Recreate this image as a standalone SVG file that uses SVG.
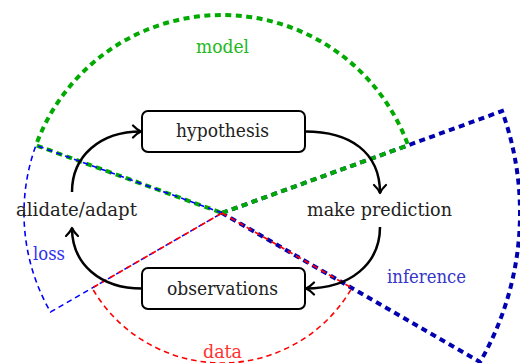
<svg xmlns="http://www.w3.org/2000/svg" width="520" height="363" viewBox="0 0 520 363">
  <style>
    .wedge { fill: none; }
    .thick { stroke-width: 4; stroke-dasharray: 6 4.5; }
    .thin { stroke-width: 1.6; stroke-dasharray: 5.5 4; }
    .lbl { font-family: "DejaVu Serif", serif; font-size: 19px; text-anchor: middle; }
    .box { fill: #ffffff; stroke: #000000; stroke-width: 2; }
    .node-text { fill: #222222; }
    .conn { fill: none; stroke: #000000; stroke-width: 2.5; marker-end: url(#arr); }
  </style>
  <defs>
    <marker id="arr" viewBox="-10 -8 12 16" refX="0" refY="0" markerWidth="12" markerHeight="16" markerUnits="userSpaceOnUse" orient="auto">
      <path d="M-8,-6 C-5,-2.8 -1.6,-0.7 0,0 C-1.6,0.7 -5,2.8 -8,6" fill="none" stroke="#000000" stroke-width="2.2" stroke-linecap="round" stroke-linejoin="round"/>
    </marker>
  </defs>

  <g id="regions">
    <path id="inference-wedge" class="wedge thick" stroke="#0000b0" d="M222,213 L502.03,111.08 A298,298 0 0 1 480.08,362 Z"/>
    <path id="model-wedge" class="wedge thick" stroke="#00aa00" d="M222,213 L408.06,145.28 A198,198 0 0 0 35.94,145.28 Z"/>
    <path id="loss-wedge" class="wedge thin" stroke="#0000ff" d="M222,213 L35.94,145.28 A198,198 0 0 0 50.53,312 Z"/>
    <path id="data-wedge" class="wedge thin" stroke="#ff0000" d="M222,213 L351.9,288 A150,150 0 0 1 92.1,288 Z"/>
    <text class="lbl" x="222.5" y="53" fill="#22b822" textLength="53" lengthAdjust="spacingAndGlyphs">model</text>
    <text class="lbl" x="49" y="260" fill="#3232ee" textLength="32" lengthAdjust="spacingAndGlyphs">loss</text>
    <text class="lbl" x="426.5" y="283" fill="#3636c8" textLength="79" lengthAdjust="spacingAndGlyphs">inference</text>
    <text class="lbl" x="222.5" y="358" fill="#ff3232" textLength="39" lengthAdjust="spacingAndGlyphs">data</text>
  </g>

  <g id="connectors">
    <path class="conn" d="M72,192 C72,156 100,131.5 141,131.5"/>
    <path class="conn" d="M305,131.5 C350,131.5 380,152 380,193"/>
    <path class="conn" d="M380,227 C380,264 350,288.5 306,288.5"/>
    <path class="conn" d="M142,288.5 C100,288.5 72,264 72,228"/>
  </g>

  <g id="hypothesis">
    <rect class="box" x="142" y="111" width="163" height="41" rx="6"/>
    <text class="lbl node-text" x="222.5" y="137" textLength="93" lengthAdjust="spacingAndGlyphs">hypothesis</text>
  </g>
  <g id="make-prediction">
    <text class="lbl node-text" x="379.5" y="216" textLength="145" lengthAdjust="spacingAndGlyphs">make prediction</text>
  </g>
  <g id="observations">
    <rect class="box" x="142" y="268" width="163" height="41" rx="6"/>
    <text class="lbl node-text" x="222.5" y="295" textLength="111" lengthAdjust="spacingAndGlyphs">observations</text>
  </g>
  <g id="validate-adapt">
    <text class="lbl node-text" x="76.5" y="216" textLength="121" lengthAdjust="spacingAndGlyphs">alidate/adapt</text>
  </g>
</svg>
